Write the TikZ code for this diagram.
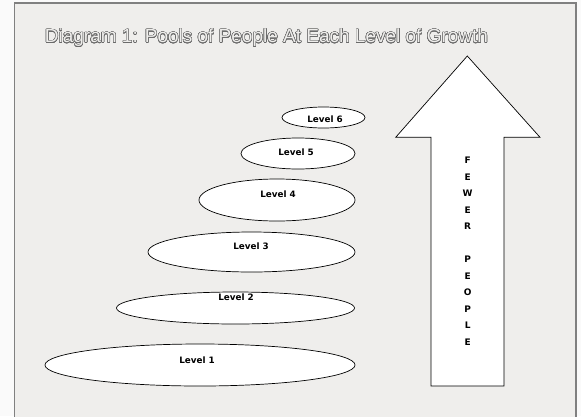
\documentclass[tikz,border=0pt]{standalone}
\usepackage{fontspec}
\setmainfont{Liberation Sans}
\newfontfamily\lvlfont{DejaVu Sans}
\usepackage{contour}
\usetikzlibrary{shapes.geometric}
\definecolor{panel}{HTML}{EFEEEC}
\definecolor{outside}{HTML}{FAFAFA}
\definecolor{rim}{HTML}{808080}
\definecolor{ink}{HTML}{6A6A6A}
\contourlength{0.45pt}
\contournumber{24}
\tikzset{
  pool/.style={shape=ellipse,draw=black,fill=white,line width=0.7pt,inner sep=0pt},
  lvl/.style={font=\lvlfont\bfseries\fontsize{8.8}{10}\selectfont}
}
\begin{document}
\begin{tikzpicture}[x=1pt,y=-1pt]
    \useasboundingbox (0,0) rectangle (581,416);
    \fill[outside] (0,0) rectangle (581,416);
    \draw[rim,fill=panel,line width=1.4pt] (14.5,3) rectangle (576,425);

    \node (title) at (266.5,38) {\fontsize{19}{22}\selectfont\contour{ink}{\textcolor{panel}{Diagram 1: Pools of People At Each Level of Growth}}};

    \node[pool,minimum width=83pt,minimum height=21pt] (P6) at (323.5,117.5) {};
    \node[pool,minimum width=114pt,minimum height=31pt] (P5) at (298,153.5) {};
    \node[pool,minimum width=156pt,minimum height=42pt] (P4) at (277,200) {};
    \node[pool,minimum width=207pt,minimum height=40pt] (P3) at (251.5,252) {};
    \node[pool,minimum width=238pt,minimum height=32pt] (P2) at (235.5,308) {};
    \node[pool,minimum width=310pt,minimum height=42pt] (P1) at (200,365) {};

    \node[lvl] (L6) at (325,119) {Level 6};
    \node[lvl] (L5) at (296,152) {Level 5};
    \node[lvl] (L4) at (278,194) {Level 4};
    \node[lvl] (L3) at (251,246.5) {Level 3};
    \node[lvl] (L2) at (236,297.5) {Level 2};
    \node[lvl] (L1) at (197,360) {Level 1};

    \draw[black,fill=white,line width=0.7pt] (467.3,56) -- (540,137.3) -- (504,137.3) -- (504,386)
        -- (431,386) -- (431,137.3) -- (395.7,137.3) -- cycle;
    \node[lvl,align=center,font=\lvlfont\bfseries\fontsize{9}{16.5}\selectfont] (fewer) at (467.7,251)
        {F\\E\\W\\E\\R\\[16.5pt]P\\E\\O\\P\\L\\E};
\end{tikzpicture}
\end{document}
